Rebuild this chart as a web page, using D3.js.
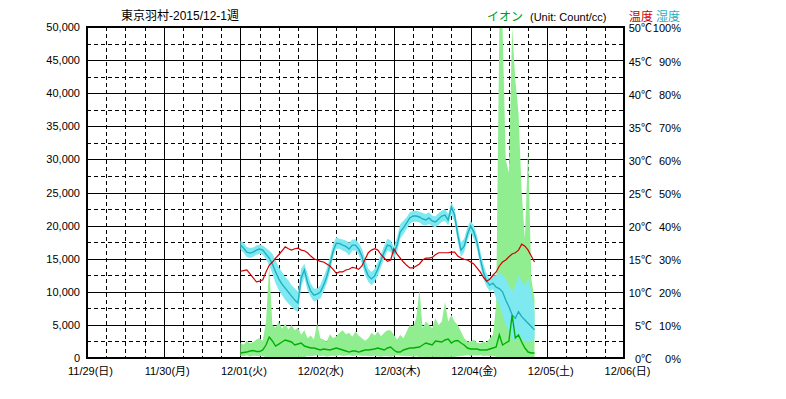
<!DOCTYPE html>
<html><head><meta charset="utf-8">
<script src="https://cdn.jsdelivr.net/npm/d3@7"></script>
<style>body{margin:0;background:#fff;overflow:hidden}</style>
</head><body>
<svg id="c" width="786" height="399"></svg>
<script>
const title = "東京羽村-2015/12-1週";
const dayLabels = ["11/29(日)","11/30(月)","12/01(火)","12/02(水)","12/03(木)","12/04(金)","12/05(土)","12/06(日)"];
const ionTicks = [0,5000,10000,15000,20000,25000,30000,35000,40000,45000,50000];
const tempTicks = [0,5,10,15,20,25,30,35,40,45,50];
const humTicks = [0,10,20,30,40,50,60,70,80,90,100];
const seriesStart = "2015-12-01T00:00:00"; // hourly samples

const temp = [
13.1,13.2,13.3,12.7,12.1,11.5,11.6,11.8,13.0,14.0,
14.5,15.1,15.6,16.2,16.8,16.5,16.3,16.5,16.6,16.3,
16.2,15.9,15.4,15.0,14.8,14.6,14.5,14.2,13.9,13.4,
12.8,13.0,13.0,13.3,13.4,13.7,13.6,13.4,13.9,14.9,
15.9,16.3,16.5,16.3,15.6,15.1,14.6,14.8,16.5,15.7,
15.1,14.5,14.0,13.6,13.6,13.9,14.2,14.8,15.1,15.1,
15.2,15.6,15.9,15.9,15.9,15.9,16.0,16.0,15.4,15.1,
14.9,14.8,14.5,14.2,13.6,13.0,12.2,11.6,11.9,12.5,
13.0,13.9,14.5,14.8,15.3,15.7,15.9,16.3,17.2,16.9,
16.3,15.4,14.5];

const humidity = [
34.1,33.2,32.0,31.7,32.0,32.6,32.9,32.6,31.4,30.2,
28.4,26.0,23.9,22.3,21.1,19.9,18.7,17.5,16.6,24.2,
26.6,22.7,20.2,19.0,19.3,19.9,22.0,24.5,28.1,32.3,
34.7,34.6,34.1,33.7,32.9,34.1,34.1,32.9,30.8,27.2,
24.8,23.9,24.8,26.9,29.6,32.0,34.1,33.8,31.7,34.1,
38.1,39.3,40.8,42.3,42.9,42.9,42.6,42.0,41.7,42.3,
41.4,41.1,42.0,42.9,43.2,41.7,45.6,43.2,37.1,32.6,
33.8,37.4,39.9,38.1,35.0,30.2,26.0,23.3,22.0,22.6,
21.4,21.0,20.0,17.5,15.5,13.0,12.0,14.0,12.5,11.5,
10.5,9.5,8.5];

const humMax = [
35.5,34.8,33.5,33.2,33.4,34.0,34.3,34.0,33.2,32.5,
31.5,29.5,27.5,26.0,24.5,23.5,22.0,21.0,20.0,27.0,
28.5,25.5,22.5,21.0,21.0,22.0,24.5,27.0,30.5,34.5,
36.5,36.0,35.8,35.5,34.8,35.8,35.8,34.8,33.0,30.0,
27.0,26.0,27.0,29.0,31.5,34.0,36.0,35.5,33.5,36.5,
40.5,41.5,42.5,44.0,44.5,44.5,44.2,43.8,43.5,44.0,
43.0,42.8,43.8,44.5,45.0,43.5,47.0,45.0,39.5,35.0,
36.0,39.5,41.5,40.0,37.0,32.5,28.5,25.5,24.0,25.0,
25.0,26.0,25.0,24.0,22.0,20.0,22.0,25.0,23.0,22.0,
24.0,20.0,14.0];

const humMin = [
32.8,31.8,30.5,30.2,30.6,31.2,31.5,31.2,29.8,28.0,
25.5,22.5,20.5,19.0,17.5,16.5,15.5,14.5,13.8,21.5,
24.5,20.5,18.5,17.0,17.5,18.0,20.0,22.5,26.0,30.5,
33.0,33.0,32.5,32.0,31.0,32.5,32.5,31.2,28.5,25.0,
23.0,22.0,23.0,25.0,27.5,30.0,32.5,32.0,30.0,32.0,
36.0,37.5,39.0,40.5,41.2,41.2,41.0,40.2,40.0,40.5,
39.8,39.5,40.2,41.2,41.5,40.0,43.5,41.0,35.0,30.5,
32.0,35.5,38.0,36.2,33.0,28.0,24.0,21.5,20.2,20.8,
18.0,16.0,13.0,10.0,8.0,6.0,5.0,7.0,6.0,5.0,
5.0,5.0,6.0];

const ionMean = [
760,830,900,1060,1130,980,980,1210,1960,3170,
2570,1810,2110,2420,2720,2570,2420,1960,2110,2270,
1810,1660,1510,1510,1360,1210,1360,1280,1210,1360,
1510,1360,1210,1060,900,1060,1060,900,1060,1210,
1210,1280,1360,1510,1360,1210,1510,1660,1210,900,
900,1210,1360,1510,1510,1590,1660,1960,2270,2110,
1960,2570,2490,2420,2720,2870,2270,2570,2640,2270,
1960,1510,1360,1360,1360,1210,1210,1210,1360,1510,
1660,3500,1960,2270,2570,6500,3020,3470,2420,1510,
900,760,760];

const ionMax = [
2300,2000,2600,2200,2400,2800,3000,2600,5500,14000,
5000,4600,5500,4400,5200,4300,5000,4200,4600,3500,
4200,3000,3400,2800,5300,3000,2800,2500,3600,3000,
3300,3800,4200,3600,3800,3200,4000,3400,3000,2600,
3000,3800,3400,4000,3300,3800,4200,4200,3500,2800,
3500,3000,4000,5000,4700,6000,10300,4500,5500,5000,
4500,6000,5000,5500,8500,5500,6500,5500,5000,4000,
3000,2500,2500,2800,2300,2200,2500,2300,3000,3500,
8000,50000,50000,30000,28000,50000,42000,37000,25000,18000,
32000,12000,9000];

const ionMin = [
300,250,400,200,350,300,250,300,100,0,
50,0,100,0,50,150,0,100,200,150,
100,300,250,350,400,300,350,200,300,350,
250,400,300,350,400,300,350,400,300,350,
250,300,350,250,200,300,250,200,300,400,
350,300,250,300,200,250,150,200,100,150,
200,150,100,200,150,100,200,150,250,300,
350,400,350,400,350,400,300,350,300,250,
200,0,0,0,50,0,0,0,50,100,
0,100,150];

const svg = d3.select("#c");
const L = 87, R = 624, T = 27, B = 358;
const t0 = new Date("2015-11-29T00:00:00"), t1 = new Date("2015-12-06T00:00:00");
const x = d3.scaleTime().domain([t0, t1]).range([L, R]);
const yIon = d3.scaleLinear().domain([0, 50000]).range([B, T]);
const yTemp = d3.scaleLinear().domain([0, 50]).range([B, T]);
const yHum = d3.scaleLinear().domain([0, 100]).range([B, T]);
const start = new Date(seriesStart);
const times = temp.map((_, i) => d3.timeHour.offset(start, i));

const FONT = "'Liberation Sans', Arial, 'Noto Sans CJK JP', sans-serif";

// grid
const grid = svg.append("g").attr("shape-rendering", "crispEdges");
const sixHours = d3.timeHour.every(6).range(t0, t1).slice(1);
sixHours.forEach(d => {
  const solid = d.getHours() === 0;
  const px = Math.round(x(d)) + 0.5;
  grid.append("line").attr("x1", px).attr("x2", px).attr("y1", T).attr("y2", B)
    .attr("stroke", "#000").attr("stroke-width", 1)
    .attr("stroke-dasharray", solid ? null : "4,3");
});
d3.range(2500, 50000, 2500).forEach(v => {
  const solid = v % 5000 === 0;
  const py = Math.round(yIon(v)) + 0.5;
  grid.append("line").attr("x1", L).attr("x2", R).attr("y1", py).attr("y2", py)
    .attr("stroke", "#000").attr("stroke-width", 1)
    .attr("stroke-dasharray", solid ? null : "4,3");
});

svg.append("clipPath").attr("id", "clip").append("rect")
  .attr("x", L).attr("y", T).attr("width", R - L).attr("height", B - T);
const plot = svg.append("g").attr("clip-path", "url(#clip)");

// ion band
plot.append("path").datum(times)
  .attr("d", d3.area().x(d => x(d)).y0((d, i) => yIon(ionMin[i])).y1((d, i) => yIon(ionMax[i])))
  .attr("fill", "#90ee90");
// humidity band
plot.append("path").datum(times)
  .attr("d", d3.area().x(d => x(d)).y0((d, i) => yHum(humMin[i])).y1((d, i) => yHum(humMax[i])))
  .attr("fill", "#7fe9f2");
// humidity line
plot.append("path").datum(times)
  .attr("d", d3.line().x(d => x(d)).y((d, i) => yHum(humidity[i])))
  .attr("fill", "none").attr("stroke", "#1fb0c0").attr("stroke-width", 1.4);
// ion mean line
plot.append("path").datum(times)
  .attr("d", d3.line().x(d => x(d)).y((d, i) => yIon(ionMean[i])))
  .attr("fill", "none").attr("stroke", "#00b000").attr("stroke-width", 1.4);
// temperature line
plot.append("path").datum(times)
  .attr("d", d3.line().x(d => x(d)).y((d, i) => yTemp(temp[i])))
  .attr("fill", "none").attr("stroke", "#d00000").attr("stroke-width", 1.2);

// border
svg.append("rect").attr("x", L).attr("y", T).attr("width", R - L).attr("height", B - T)
  .attr("fill", "none").attr("stroke", "#000").attr("stroke-width", 2)
  .attr("shape-rendering", "crispEdges");

// axes
function styleAxis(g) {
  g.select(".domain").remove();
  g.selectAll(".tick line").remove();
  g.attr("font-family", FONT).attr("font-size", 11);
  g.selectAll("text").attr("fill", "#000");
}
svg.append("g").attr("transform", `translate(${L},0)`)
  .call(d3.axisLeft(yIon).tickValues(ionTicks).tickFormat(d3.format(",")).tickSize(0).tickPadding(7))
  .call(styleAxis);

const days = d3.timeDay.range(t0, d3.timeDay.offset(t1, 1));
svg.append("g").attr("transform", `translate(0,${B})`)
  .call(d3.axisBottom(x).tickValues(days).tickFormat((d, i) => dayLabels[i]).tickSize(0).tickPadding(9))
  .call(styleAxis)
  .selectAll("text").attr("dx", 3);

svg.append("g").attr("transform", `translate(${R},0)`)
  .call(d3.axisRight(yTemp).tickValues(tempTicks).tickFormat(d => d + "℃").tickSize(0).tickPadding(0))
  .call(styleAxis)
  .selectAll("text").attr("text-anchor", "end").attr("x", 28).attr("dy", "0.45em");

svg.append("g").attr("transform", `translate(${R},0)`)
  .call(d3.axisRight(yHum).tickValues(humTicks).tickFormat(d => d + "%").tickSize(0).tickPadding(0))
  .call(styleAxis)
  .selectAll("text").attr("text-anchor", "end").attr("x", 57).attr("dy", "0.45em");

// titles
svg.append("text").attr("x", 180).attr("y", 20).attr("text-anchor", "middle")
  .attr("font-family", FONT).attr("font-size", 12).text(title);
svg.append("text").attr("x", 487).attr("y", 21)
  .attr("font-family", FONT).attr("font-size", 12).attr("fill", "#00a000").text("イオン");
svg.append("text").attr("x", 530).attr("y", 21)
  .attr("font-family", FONT).attr("font-size", 11).text("(Unit: Count/cc)");
svg.append("text").attr("x", 629).attr("y", 21)
  .attr("font-family", FONT).attr("font-size", 12).attr("fill", "#d00000").text("温度");
svg.append("text").attr("x", 656).attr("y", 21)
  .attr("font-family", FONT).attr("font-size", 12).attr("fill", "#1fb0c0").text("湿度");
</script>
</body></html>
